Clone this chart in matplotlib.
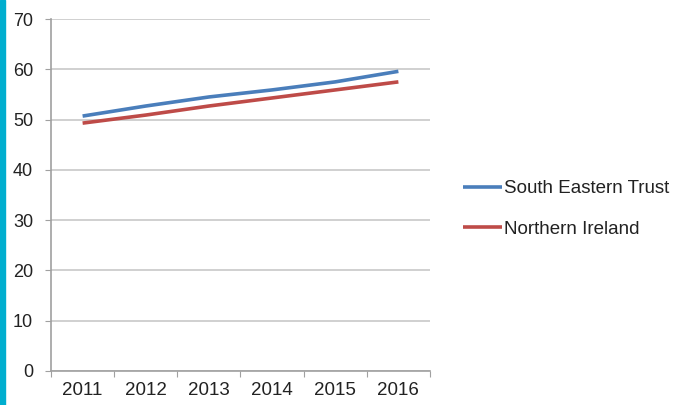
import matplotlib
matplotlib.use("Agg")
import matplotlib.pyplot as plt
from matplotlib.patches import Rectangle

plt.rcParams['font.family'] = ['Liberation Sans', 'DejaVu Sans']

years = ['2011', '2012', '2013', '2014', '2015', '2016']
south_eastern = [50.7, 52.7, 54.5, 55.9, 57.5, 59.6]
northern_ireland = [49.3, 50.9, 52.7, 54.3, 55.9, 57.5]
y_ticks = [0, 10, 20, 30, 40, 50, 60, 70]

fig = plt.figure(figsize=(6.84, 4.05), dpi=100)
ax = fig.add_axes([0.0746, 0.084, 0.554, 0.869])

x = range(len(years))
ax.plot(x, south_eastern, color='#4A7EBB', lw=2.6, label='South Eastern Trust', solid_capstyle='butt')
ax.plot(x, northern_ireland, color='#BE4B48', lw=2.6, label='Northern Ireland', solid_capstyle='butt')

ax.set_xlim(-0.5, len(years) - 0.5)
ax.set_ylim(0, 70)
ax.set_yticks(y_ticks)
ax.set_yticklabels([str(v) for v in y_ticks])
ax.yaxis.grid(True, color='#C8C8C8', lw=1.2)
ax.set_axisbelow(True)

# category axis: ticks between categories, labels centred
ax.set_xticks([i - 0.5 for i in range(len(years) + 1)])
ax.set_xticklabels([])
ax.set_xticks(list(x), minor=True)
ax.set_xticklabels(years, minor=True)
ax.tick_params(axis='x', which='major', length=4, color='#A0A0A0', direction='out')
ax.tick_params(axis='x', which='minor', length=0, pad=8, labelsize=13.5, labelcolor='#222222')
ax.tick_params(axis='y', length=4, color='#A0A0A0', pad=9, labelsize=13, labelcolor='#222222')

for side in ['top', 'right']:
    ax.spines[side].set_visible(False)
for side in ['left', 'bottom']:
    ax.spines[side].set_color('#A0A0A0')
    ax.spines[side].set_linewidth(1.2)

leg = fig.legend(loc='upper left', bbox_to_anchor=(0.652, 0.597), frameon=False,
                 fontsize=13.5, handlelength=2.1, handletextpad=0.12, labelspacing=1.25)
for t in leg.get_texts():
    t.set_color('#222222')

# cyan strip along the left edge
fig.patches.append(Rectangle((0, 0), 0.0075, 1, transform=fig.transFigure,
                             color='#00AECF', zorder=10))

fig.savefig('out.png', dpi=100)
